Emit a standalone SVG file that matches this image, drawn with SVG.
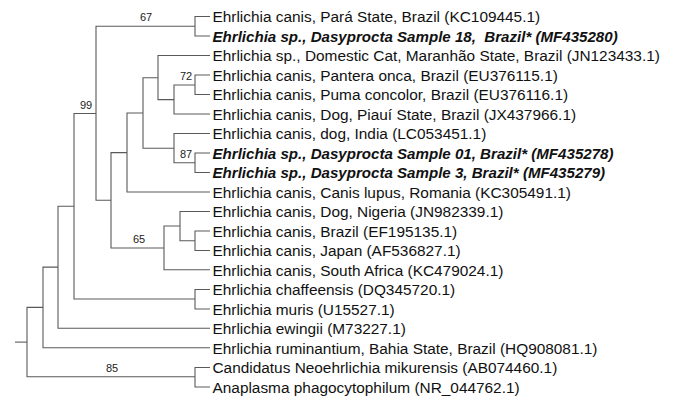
<svg xmlns="http://www.w3.org/2000/svg" width="677" height="397" viewBox="0 0 677 397">
<style>
.b{fill:none;stroke:#5a5a5a;stroke-width:1.1}
.t{font-family:"Liberation Sans",Arial,sans-serif;font-size:15.4px;fill:#111;white-space:pre}
.bi{font-weight:bold;font-style:italic;font-size:15.1px}
.s{font-family:"Liberation Sans",Arial,sans-serif;font-size:11px;fill:#222;text-anchor:middle}
</style>
<rect width="677" height="397" fill="#fff"/>
<g id="connectors">
<path class="b" d="M15,342.1H27"/>
<path class="b" d="M43,307.4H27V376.8H195"/>
<path class="b" d="M58,267.1H43V347.7H210"/>
<path class="b" d="M74,206.2H58V328.2H210"/>
<path class="b" d="M96,113.5H74V299H195"/>
<path class="b" d="M195,26.3H96V200.3H111"/>
<path class="b" d="M127,152.6H111V248H164"/>
<path class="b" d="M143,113H127V192H210"/>
<path class="b" d="M158,77.8H143V148.3H174"/>
<path class="b" d="M210,55.5H158V99.6H174"/>
<path class="b" d="M195,85H174V114H210"/>
<path class="b" d="M210,133.5H174V162.8H195"/>
<path class="b" d="M180,226H164V269.8H210"/>
<path class="b" d="M210,211.5H180V240.8H195"/>
<path class="b" d="M210,16.5H195V36H210"/>
<path class="b" d="M210,75H195V94.5H210"/>
<path class="b" d="M210,153H195V172.5H210"/>
<path class="b" d="M210,231H195V250.5H210"/>
<path class="b" d="M210,289.5H195V309H210"/>
<path class="b" d="M210,367.5H195V387H210"/>
</g>
<g id="support">
<text class="s" x="146" y="21">67</text>
<text class="s" x="186" y="80">72</text>
<text class="s" x="86" y="108.5">99</text>
<text class="s" x="186" y="158">87</text>
<text class="s" x="139" y="243">65</text>
<text class="s" x="112" y="372">85</text>
</g>
<g id="leaf01"><text class="t" x="212.5" y="22">Ehrlichia canis, Pará State, Brazil (KC109445.1)</text></g>
<g id="leaf02"><text class="t bi" x="212.5" y="41.5">Ehrlichia sp., Dasyprocta Sample 18,  Brazil* (MF435280)</text></g>
<g id="leaf03"><text class="t" x="212.5" y="61">Ehrlichia sp., Domestic Cat, Maranhão State, Brazil (JN123433.1)</text></g>
<g id="leaf04"><text class="t" x="212.5" y="80.5">Ehrlichia canis, Pantera onca, Brazil (EU376115.1)</text></g>
<g id="leaf05"><text class="t" x="212.5" y="100">Ehrlichia canis, Puma concolor, Brazil (EU376116.1)</text></g>
<g id="leaf06"><text class="t" x="212.5" y="119.5">Ehrlichia canis, Dog, Piauí State, Brazil (JX437966.1)</text></g>
<g id="leaf07"><text class="t" x="212.5" y="139">Ehrlichia canis, dog, India (LC053451.1)</text></g>
<g id="leaf08"><text class="t bi" x="212.5" y="158.5">Ehrlichia sp., Dasyprocta Sample 01, Brazil* (MF435278)</text></g>
<g id="leaf09"><text class="t bi" x="212.5" y="178">Ehrlichia sp., Dasyprocta Sample 3, Brazil* (MF435279)</text></g>
<g id="leaf10"><text class="t" x="212.5" y="197.5">Ehrlichia canis, Canis lupus, Romania (KC305491.1)</text></g>
<g id="leaf11"><text class="t" x="212.5" y="217">Ehrlichia canis, Dog, Nigeria (JN982339.1)</text></g>
<g id="leaf12"><text class="t" x="212.5" y="236.5">Ehrlichia canis, Brazil (EF195135.1)</text></g>
<g id="leaf13"><text class="t" x="212.5" y="256">Ehrlichia canis, Japan (AF536827.1)</text></g>
<g id="leaf14"><text class="t" x="212.5" y="275.5">Ehrlichia canis, South Africa (KC479024.1)</text></g>
<g id="leaf15"><text class="t" x="212.5" y="295">Ehrlichia chaffeensis (DQ345720.1)</text></g>
<g id="leaf16"><text class="t" x="212.5" y="314.5">Ehrlichia muris (U15527.1)</text></g>
<g id="leaf17"><text class="t" x="212.5" y="334">Ehrlichia ewingii (M73227.1)</text></g>
<g id="leaf18"><text class="t" x="212.5" y="353.5">Ehrlichia ruminantium, Bahia State, Brazil (HQ908081.1)</text></g>
<g id="leaf19"><text class="t" x="212.5" y="373">Candidatus Neoehrlichia mikurensis (AB074460.1)</text></g>
<g id="leaf20"><text class="t" x="212.5" y="392.5">Anaplasma phagocytophilum (NR_044762.1)</text></g>
</svg>
